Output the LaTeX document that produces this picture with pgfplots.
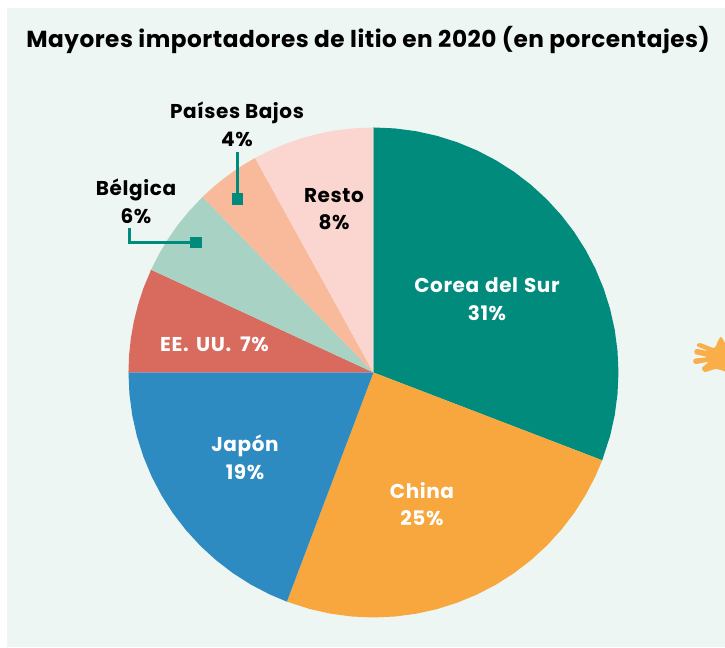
\documentclass[border=0pt]{standalone}
\usepackage{fontspec}
\setmainfont{Poppins}
\usepackage{pgfplots}
\pgfplotsset{compat=1.18}
\usepgfplotslibrary{polar}
\definecolor{panel}{HTML}{EDF6F3}
\definecolor{corea}{HTML}{008B7C}
\definecolor{china}{HTML}{F8A63E}
\definecolor{japon}{HTML}{2D8BC1}
\definecolor{eeuu}{HTML}{D86B5E}
\definecolor{belgica}{HTML}{A8D2C4}
\definecolor{pbajos}{HTML}{F9BA9C}
\definecolor{resto}{HTML}{FBD6D0}
\definecolor{hand}{HTML}{F9AE4A}
\newcommand{\lab}{\bfseries\fontsize{15}{20.8}\selectfont\addfontfeatures{LetterSpace=3}}
\begin{document}
\begin{tikzpicture}
\path[use as bounding box] (0,0) rectangle (543.75pt,485.25pt);
\fill[panel] (5.25pt,0) rectangle (543.75pt,479.25pt);
\begin{polaraxis}[
  hide axis, scale only axis, width=367.5pt, height=367.5pt,
  at={(280.1pt,205.9pt)}, anchor=center,
  xmin=0, xmax=360, ymin=0, ymax=1, clip=false]
% Corea del Sur 31%
\addplot[fill=corea,draw=none] coordinates {(0,0)(90,1)(85,1)(80,1)(75,1)(70,1)(65,1)(60,1)(55,1)(50,1)(45,1)(40,1)(35,1)(30,1)(25,1)(20,1)(15,1)(10,1)(5,1)(0,1)(-5,1)(-10,1)(-15,1)(-21,1)(0,0)};
% China 25%
\addplot[fill=china,draw=none] coordinates {(0,0)(-21,1)(-25,1)(-30,1)(-35,1)(-40,1)(-45,1)(-50,1)(-55,1)(-60,1)(-65,1)(-70,1)(-75,1)(-80,1)(-85,1)(-90,1)(-95,1)(-100,1)(-105,1)(-110.7,1)(0,0)};
% Japon 19%
\addplot[fill=japon,draw=none] coordinates {(0,0)(-110.7,1)(-115,1)(-120,1)(-125,1)(-130,1)(-135,1)(-140,1)(-145,1)(-150,1)(-155,1)(-160,1)(-165,1)(-170,1)(-175,1)(-180,1)(0,0)};
% EE. UU. 7%
\addplot[fill=eeuu,draw=none] coordinates {(0,0)(180,1)(176,1)(172,1)(168,1)(164,1)(160,1)(155.2,1)(0,0)};
% Belgica 6%
\addplot[fill=belgica,draw=none] coordinates {(0,0)(155.2,1)(151,1)(147,1)(143,1)(139,1)(134.2,1)(0,0)};
% Paises Bajos 4%
\addplot[fill=pbajos,draw=none] coordinates {(0,0)(134.2,1)(131,1)(128,1)(125,1)(122,1)(118.9,1)(0,0)};
% Resto 8%
\addplot[fill=resto,draw=none] coordinates {(0,0)(118.9,1)(115,1)(111,1)(107,1)(103,1)(99,1)(95,1)(90,1)(0,0)};
\end{polaraxis}
\begin{axis}[
  hide axis, scale only axis, width=543.75pt, height=485.25pt,
  at={(0,0)}, anchor=south west,
  xmin=0, xmax=725, ymin=0, ymax=647, y dir=reverse, clip=true]
% leader lines
\addplot[corea,line width=1.9pt] coordinates {(237.5,152)(237.5,199)};
\addplot[corea,line width=2pt] coordinates {(129.4,228)(129.4,242.4)(196,242.4)};
\addplot[only marks,mark=square*,mark size=4pt,mark options={fill=corea,draw=corea,line width=0pt}] coordinates {(237.5,199)(196,242.4)};
% hand at the right edge
\addplot[fill=hand,draw=none,smooth] coordinates {(726,345)(721,337)(717,343)(714,348)(700,343)(697,346)(708,351)(696,349)(695,354)(707,357)(694,359)(695,364)(708,362)(702,368)(705,372)(716,369)(726,372)};
\node[font=\bfseries\fontsize{17.4}{20}\selectfont\addfontfeatures{LetterSpace=2.2}] at (axis cs:368,40) {Mayores importadores de litio en 2020 (en porcentajes)};
\node[font=\lab,align=center,text=black] at (axis cs:237,124) {Países Bajos\\4\%};
\node[font=\lab,align=center,text=black] at (axis cs:136,201) {Bélgica\\6\%};
\node[font=\lab,align=center,text=black] at (axis cs:334,209) {Resto\\8\%};
\node[font=\lab,align=center,text=white] at (axis cs:487,299) {Corea\hspace{0.8pt} del\hspace{0.8pt} Sur\\31\%};
\node[font=\lab,align=center,text=white] at (axis cs:422,504) {China\\25\%};
\node[font=\lab,align=center,text=white] at (axis cs:245,457) {Japón\\19\%};
\node[font=\lab,align=center,text=white] at (axis cs:214.5,344) {EE.\hspace{2pt} UU.\hspace{3pt} 7\%};
\end{axis}
\end{tikzpicture}
\end{document}
